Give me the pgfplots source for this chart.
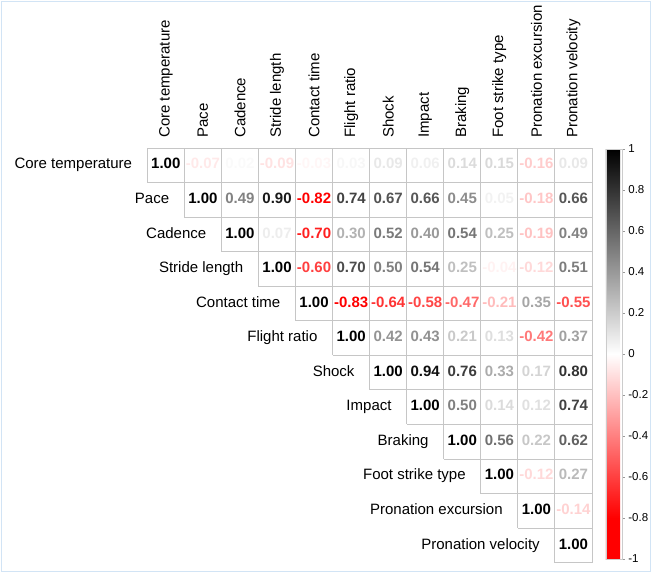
\documentclass[border=0pt]{standalone}
\usepackage{pgfplots}
\pgfplotsset{compat=1.18}
\usepackage{fontspec}
\setmainfont{Liberation Sans}
\definecolor{gridgray}{RGB}{198,198,198}
\definecolor{framecol}{RGB}{210,228,245}
\begin{document}
\begin{tikzpicture}[x=1pt,y=1pt]
\useasboundingbox (0,0) rectangle (652,-573);
\draw[framecol] (1.5,-1.5) rectangle (650.5,-571.5);
\begin{axis}[
  at={(147.3pt,-148pt)}, anchor=north west,
  scale only axis, width=444.7pt, height=414.7pt,
  clip=false,
  xmin=-0.5, xmax=11.5, ymin=-0.5, ymax=11.5, y dir=reverse,
  axis line style={draw=none},
  xtick={0,...,11},
  xticklabels={Core temperature,Pace,Cadence,Stride length,Contact time,Flight ratio,Shock,Impact,Braking,Foot strike type,Pronation excursion,Pronation velocity},
  xticklabel pos=upper, xtick pos=upper,
  ytick=\empty,
  major tick length=0pt,
  xticklabel style={rotate=90, anchor=west, inner sep=0pt, font=\fontsize{15}{15}\selectfont},
  xticklabel shift=10pt,
  colormap={corr}{rgb255(0cm)=(255,0,0) rgb255(0.2cm)=(255,0,0) rgb255(1cm)=(255,255,255) rgb255(2cm)=(0,0,0)},
  point meta min=-1, point meta max=1,
  colorbar,
  colorbar style={
    at={(parent axis.north east)}, anchor=north west,
    xshift=5.3pt, yshift=-1pt,
    width=16pt, height=410pt,
    ytick={-1,-0.8,-0.6,-0.4,-0.2,0,0.2,0.4,0.6,0.8,1},
    yticklabel style={font=\fontsize{11.5}{12}\selectfont, /pgf/number format/assume math mode=true},
    ytick pos=right, tick align=outside,
    major tick length=3pt,
    ytick style={draw=gray!80, thin},
    axis line style={draw=gray!40, thin},
  },
]
% cell grid
\addplot[gridgray, line width=0.9pt, unbounded coords=jump, forget plot] coordinates {
(-0.5,-0.5) (11.5,-0.5) (nan,nan)
(-0.5,0.5) (11.5,0.5) (nan,nan)
(0.5,1.5) (11.5,1.5) (nan,nan)
(1.5,2.5) (11.5,2.5) (nan,nan)
(2.5,3.5) (11.5,3.5) (nan,nan)
(3.5,4.5) (11.5,4.5) (nan,nan)
(4.5,5.5) (11.5,5.5) (nan,nan)
(5.5,6.5) (11.5,6.5) (nan,nan)
(6.5,7.5) (11.5,7.5) (nan,nan)
(7.5,8.5) (11.5,8.5) (nan,nan)
(8.5,9.5) (11.5,9.5) (nan,nan)
(9.5,10.5) (11.5,10.5) (nan,nan)
(10.5,11.5) (11.5,11.5) (nan,nan)
(-0.5,-0.5) (-0.5,0.5) (nan,nan)
(0.5,-0.5) (0.5,1.5) (nan,nan)
(1.5,-0.5) (1.5,2.5) (nan,nan)
(2.5,-0.5) (2.5,3.5) (nan,nan)
(3.5,-0.5) (3.5,4.5) (nan,nan)
(4.5,-0.5) (4.5,5.5) (nan,nan)
(5.5,-0.5) (5.5,6.5) (nan,nan)
(6.5,-0.5) (6.5,7.5) (nan,nan)
(7.5,-0.5) (7.5,8.5) (nan,nan)
(8.5,-0.5) (8.5,9.5) (nan,nan)
(9.5,-0.5) (9.5,10.5) (nan,nan)
(10.5,-0.5) (10.5,11.5) (nan,nan)
(11.5,-0.5) (11.5,11.5)
};
% correlation values
\addplot[only marks, mark=none,
  point meta=explicit,
  visualization depends on={value \thisrow{v} \as \rawv},
  nodes near coords={\ifdim\rawv pt<0pt
      \pgfmathsetmacro\pp{min(100,abs(\rawv)*125)}\textcolor{red!\pp!white}{\rawv}%
    \else
      \pgfmathsetmacro\pp{abs(\rawv)*100}\textcolor{black!\pp!white}{\rawv}%
    \fi},
  every node near coord/.append style={anchor=center, inner sep=0pt,
    text height=0.72em, text depth=0pt,
    font=\fontsize{15}{15}\selectfont\bfseries},
] table[x=x, y=y, meta=v] {
x y v
0 0 1.00
1 0 -0.07
2 0 0.02
3 0 -0.09
4 0 -0.03
5 0 0.03
6 0 0.09
7 0 0.06
8 0 0.14
9 0 0.15
10 0 -0.16
11 0 0.09
1 1 1.00
2 1 0.49
3 1 0.90
4 1 -0.82
5 1 0.74
6 1 0.67
7 1 0.66
8 1 0.45
9 1 0.05
10 1 -0.18
11 1 0.66
2 2 1.00
3 2 0.07
4 2 -0.70
5 2 0.30
6 2 0.52
7 2 0.40
8 2 0.54
9 2 0.25
10 2 -0.19
11 2 0.49
3 3 1.00
4 3 -0.60
5 3 0.70
6 3 0.50
7 3 0.54
8 3 0.25
9 3 -0.04
10 3 -0.12
11 3 0.51
4 4 1.00
5 4 -0.83
6 4 -0.64
7 4 -0.58
8 4 -0.47
9 4 -0.21
10 4 0.35
11 4 -0.55
5 5 1.00
6 5 0.42
7 5 0.43
8 5 0.21
9 5 0.13
10 5 -0.42
11 5 0.37
6 6 1.00
7 6 0.94
8 6 0.76
9 6 0.33
10 6 0.17
11 6 0.80
7 7 1.00
8 7 0.50
9 7 0.14
10 7 0.12
11 7 0.74
8 8 1.00
9 8 0.56
10 8 0.22
11 8 0.62
9 9 1.00
10 9 -0.12
11 9 0.27
10 10 1.00
11 10 -0.14
11 11 1.00
};
% row labels
\tikzset{rowlab/.style={anchor=east, inner sep=0pt, xshift=-15pt, text height=0.72em, text depth=0pt, font=\fontsize{15}{15}\selectfont}}
\node[rowlab] at (axis cs:-0.5,0) {Core temperature};
\node[rowlab] at (axis cs:0.5,1) {Pace};
\node[rowlab] at (axis cs:1.5,2) {Cadence};
\node[rowlab] at (axis cs:2.5,3) {Stride length};
\node[rowlab] at (axis cs:3.5,4) {Contact time};
\node[rowlab] at (axis cs:4.5,5) {Flight ratio};
\node[rowlab] at (axis cs:5.5,6) {Shock};
\node[rowlab] at (axis cs:6.5,7) {Impact};
\node[rowlab] at (axis cs:7.5,8) {Braking};
\node[rowlab] at (axis cs:8.5,9) {Foot strike type};
\node[rowlab] at (axis cs:9.5,10) {Pronation excursion};
\node[rowlab] at (axis cs:10.5,11) {Pronation velocity};
\end{axis}
\end{tikzpicture}
\end{document}
